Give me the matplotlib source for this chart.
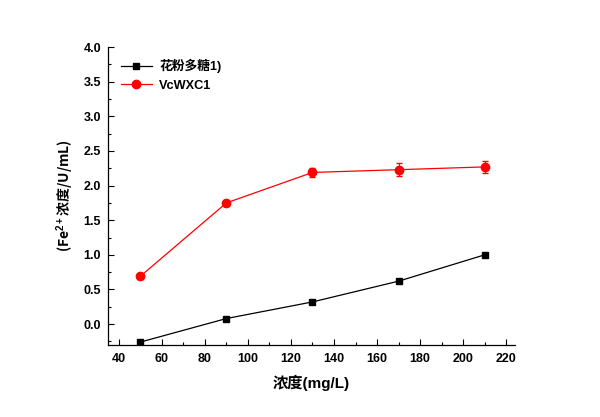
import matplotlib.pyplot as plt
from matplotlib.ticker import MultipleLocator

plt.rcParams['font.family'] = ['Liberation Sans', 'Noto Sans CJK SC', 'DejaVu Sans']
plt.rcParams['font.weight'] = 'bold'
plt.rcParams['mathtext.fontset'] = 'custom'
plt.rcParams['mathtext.rm'] = 'Liberation Sans:bold'
plt.rcParams['mathtext.it'] = 'Liberation Sans:bold'
plt.rcParams['mathtext.bf'] = 'Liberation Sans:bold'

# ── 数据 ──────────────────────────────────────────
conc = [50, 90, 130, 170, 210]
polysaccharide = [-0.26, 0.08, 0.32, 0.62, 1.00]
polysaccharide_err = [0.02, 0.02, 0.02, 0.03, 0.03]
vc = [0.69, 1.75, 2.19, 2.23, 2.27]
vc_err = [0.03, 0.03, 0.07, 0.09, 0.09]

labels = ['花粉多糖1)', 'VcWXC1']

fig = plt.figure(figsize=(6, 4.17), dpi=100)
ax = fig.add_axes([0.18, 0.173, 0.678, 0.714])

# 误差线
ax.errorbar(conc, polysaccharide, yerr=polysaccharide_err, fmt='none',
            ecolor='black', capsize=2.5, elinewidth=0.8)
ax.errorbar(conc, vc, yerr=vc_err, fmt='none',
            ecolor='red', capsize=2.5, elinewidth=0.8)
# 折线 + 标记
ax.plot(conc, polysaccharide, color='black', marker='s', markersize=5,
        linewidth=0.9, label=labels[0])
ax.plot(conc, vc, color='red', marker='o', markersize=6,
        linewidth=0.9, label=labels[1])

ax.set_xlim(35, 224)
ax.set_ylim(-0.3, 4.0)
ax.xaxis.set_major_locator(MultipleLocator(20))
ax.xaxis.set_minor_locator(MultipleLocator(10))
ax.yaxis.set_major_locator(MultipleLocator(0.5))
ax.yaxis.set_minor_locator(MultipleLocator(0.25))

ax.spines['top'].set_visible(False)
ax.spines['right'].set_visible(False)
for s in ('left', 'bottom'):
    ax.spines[s].set_linewidth(0.9)
ax.tick_params(which='major', direction='in', length=4, width=0.8, labelsize=9)
ax.tick_params(which='minor', direction='in', length=2.5, width=0.8)
ax.tick_params(axis='x', which='major', pad=6)
ax.tick_params(axis='y', which='major', pad=5)

ax.set_xlabel('浓度(mg/L)', fontsize=11, fontweight='bold', labelpad=7)
# 纵轴标签：中文部分用 CJK 字体
ax.set_ylabel('(Fe$^{2+}$浓度/U/mL)', fontsize=10, fontweight='bold',
              labelpad=5, family='Noto Sans CJK SC')

ax.legend(loc='upper left', frameon=False, fontsize=9.2, handlelength=2.4,
          handletextpad=0.6, bbox_to_anchor=(0.01, 0.99),
          borderaxespad=0.3, labelspacing=0.5)

fig.savefig('out.png', dpi=100)
